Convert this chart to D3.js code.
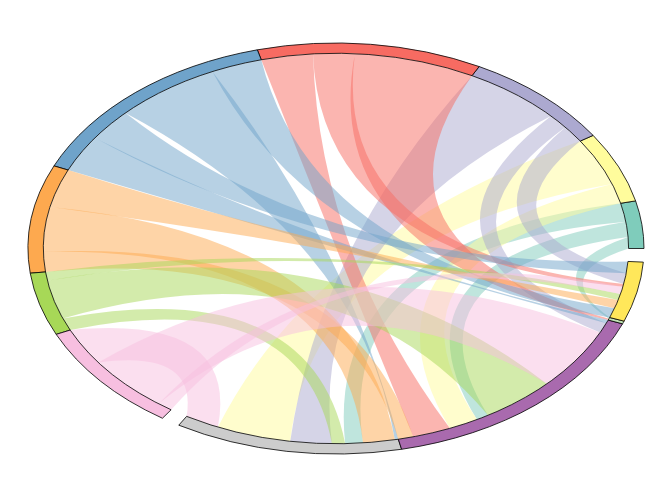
<!DOCTYPE html>
<html><head><meta charset="utf-8">
<script src="https://cdn.jsdelivr.net/npm/d3@7"></script>
<style>html,body{margin:0;padding:0;background:#fff;} svg{display:block;}</style>
</head><body>
<svg id="chart" width="672" height="480"></svg>
<script>
// ---- data ----
const groupNames = ["G1","G2","G3","G4","G5","G6","G7","G8","G9","G10","G11","G12"];
const groupColors = ["#7fccbb","#fffc9c","#aca9d0","#f76b62","#6fa3ca","#fda94f","#a7d857","#f7bfe0","#cccccc","#a96aae","#c0e2b5","#ffe75a"];
const gapAfter = [0,0,0,0,0,0,0,3.6,0,0,0,3.8];

const linkSource      = [0,0,0, 1,1, 2,2,2, 3,3,3, 4,4,4,4, 5,5,5, 6,6,6, 7,7,7];
const linkTarget      = [10,9,8, 9,8, 11,9,8, 10,11,9, 11,8,11,9, 11,8,9, 11,9,8, 8,9,11];
const linkSourceValue = [3.4,4.5,5.5, 5.9,14.1, 5.0,4.3,19.6, 24.0,8.2,10.3, 10.2,21.0,9.5,10.8, 11.4,13.3,5.9, 2.6,11.5,3.7, 11.0,17.0,3.0];
const linkTargetValue = [0.4,2.5,3.5, 5.9,14.8, 3.2,3.0,8.2, 0.4,0.8,7.6, 2.9,0.7,3.5,1.0, 2.5,6.3,3.0, 1.8,14.8,2.6, 6.9,18.4,2.2];

const groupLinkOrder = [
  [0,1,2],
  [3,4],
  [5,6,7],
  [8,9,10],
  [11,12,13,14],
  [15,16,17],
  [18,19,20],
  [21,22,23],
  [21,4,7,20,2,16,12],
  [17,10,3,1,19,22,6,14],
  [8,0],
  [11,15,18,23,9,5,13]
];

// ---- layout ----
const cx = 336, cy = 248.5, rx = 308, ry = 205.5;
const U = 1000, rOuter = U, rInner = 0.95 * U;
const hRatio = 0.7;

const total = d3.sum(linkSourceValue) + d3.sum(linkTargetValue) + d3.sum(gapAfter);
const angle = d3.scaleLinear().domain([0, total]).range([0, 2 * Math.PI]);

let cum = 0;
const groups = [];
const ends = linkSource.map(() => ({}));
groupNames.forEach((name, g) => {
  const start = cum;
  groupLinkOrder[g].forEach(l => {
    const isSrc = linkSource[l] === g;
    const v = isSrc ? linkSourceValue[l] : linkTargetValue[l];
    const e = {a0: angle(cum), a1: angle(cum + v)};
    cum += v;
    if (isSrc) ends[l].source = e; else ends[l].target = e;
  });
  groups.push({index: g, name, a0: angle(start), a1: angle(cum)});
  cum += gapAfter[g];
});

function pt(a) { return [rInner * Math.cos(a), rInner * Math.sin(a)]; }
function curveTo(p, a, b) {
  const A = pt(a), B = pt(b);
  const M = [(A[0] + B[0]) / 2, (A[1] + B[1]) / 2];
  const m = Math.hypot(M[0], M[1]);
  const half = Math.hypot(A[0] - B[0], A[1] - B[1]) / 2;
  const h = hRatio * half * (m / rInner);
  const apex = Math.max(m - h, 0);
  let Q = [0, 0];
  if (m > 1e-6) { const s = (2 * apex - m) / m; Q = [M[0] * s, M[1] * s]; }
  p.quadraticCurveTo(Q[0], Q[1], B[0], B[1]);
}
function ribbonPath(s, t) {
  const p = d3.path();
  const S0 = pt(s.a0);
  p.moveTo(S0[0], S0[1]);
  p.arc(0, 0, rInner, s.a0, s.a1, false);
  curveTo(p, s.a1, t.a0);
  p.arc(0, 0, rInner, t.a0, t.a1, false);
  curveTo(p, t.a1, s.a0);
  p.closePath();
  return p.toString();
}

const svg = d3.select("#chart");
const g = svg.append("g")
  .attr("transform", `translate(${cx},${cy}) scale(${rx / U},${-ry / U})`);

g.append("g").selectAll("path")
  .data(ends.map((e, i) => ({...e, index: i})))
  .join("path")
  .attr("d", d => ribbonPath(d.source, d.target))
  .attr("fill", d => groupColors[linkSource[d.index]])
  .attr("fill-opacity", 0.5)
  .attr("stroke", "none");

const arc = d3.arc()
  .innerRadius(rInner)
  .outerRadius(rOuter)
  .startAngle(d => d.a0 + Math.PI / 2)
  .endAngle(d => d.a1 + Math.PI / 2);

g.append("g").selectAll("path")
  .data(groups)
  .join("path")
  .attr("d", arc)
  .attr("fill", d => groupColors[d.index])
  .attr("stroke", "#000")
  .attr("stroke-width", 0.8)
  .attr("vector-effect", "non-scaling-stroke");
</script>
</body></html>
